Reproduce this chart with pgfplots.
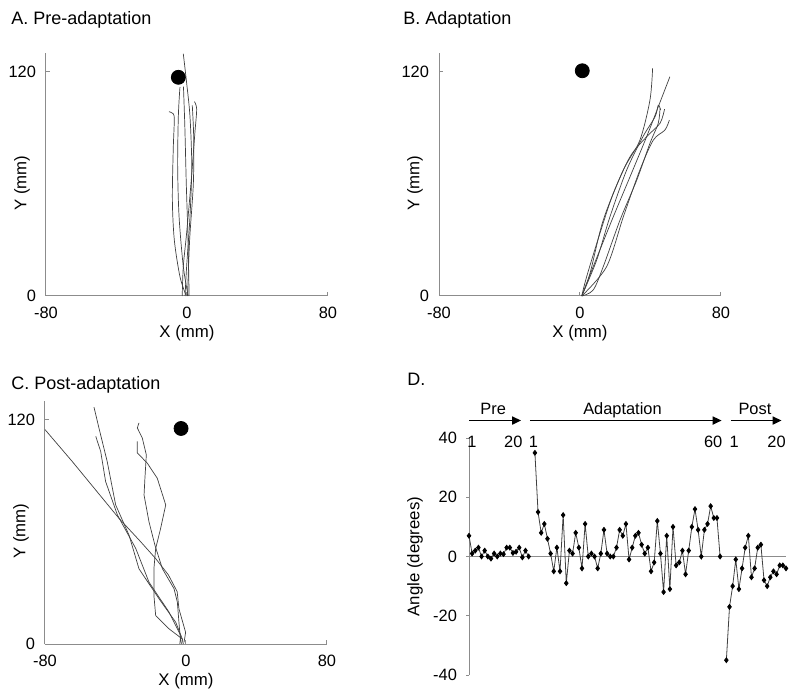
\documentclass[border=0pt]{standalone}
\usepackage{fontspec}
\setmainfont{Liberation Sans}
\usepackage{pgfplots}
\pgfplotsset{compat=1.18}
\usetikzlibrary{arrows.meta}

\definecolor{axgray}{HTML}{8C8C8C}
\definecolor{trace}{HTML}{404040}

\pgfplotsset{
  reach/.style={
    scale only axis, width=141pt, height=121.5pt,
    xmin=-80, xmax=80, ymin=0, ymax=130,
    axis lines=left, axis line style={axgray, line width=0.5pt, -},
    xtick={-80,0,80}, ytick={0,120},
    tick align=inside, major tick length=2pt,
    tick style={axgray, line width=0.5pt},
    tick label style={font=\fontsize{8.2}{10}\selectfont},
    xticklabel style={yshift=-2pt},
    yticklabel style={xshift=-1.5pt},
    /pgf/number format/assume math mode=true,
    xlabel={X (mm)}, ylabel={Y (mm)},
    label style={font=\fontsize{8.4}{10}\selectfont},
    xlabel style={at={(rel axis cs:0.5,0)}, anchor=center, yshift=-18.5pt},
    ylabel style={at={(rel axis cs:-0.085,0.465)}, anchor=center},
    clip=false,
  },
  tr/.style={trace, line width=0.35pt, no markers},
  target/.style={only marks, mark=*, mark size=3.5pt, black},
}

\begin{document}
\begin{tikzpicture}
\useasboundingbox (0,0) rectangle (400pt,349pt);

\node[anchor=base west, inner sep=0, font=\fontsize{9}{11}\selectfont] at (5.5pt,336.5pt) {A. Pre-adaptation};
\node[anchor=base west, inner sep=0, font=\fontsize{9}{11}\selectfont] at (201.5pt,336.5pt) {B. Adaptation};
\node[anchor=base west, inner sep=0, font=\fontsize{9}{11}\selectfont] at (5.5pt,154pt) {C. Post-adaptation};
\node[anchor=base west, inner sep=0, font=\fontsize{9}{11}\selectfont] at (203.5pt,156pt) {D.};

% A. Pre-adaptation
\begin{axis}[reach, at={(23pt,201pt)}, anchor=south west]
\addplot[tr, smooth] coordinates {(-2.1,129.6) (-0.2,114) (1.7,96) (2.7,69.5) (1.7,42.6) (-0.2,15.8) (-1.1,0)};
\addplot[tr, smooth] coordinates {(-4,111.7) (-4.9,96.4) (-5.3,69.5) (-4.5,42.6) (-2.1,15.8) (0.7,0)};
\addplot[tr, smooth] coordinates {(-10.2,98.6) (-7.8,97.5) (-7.2,94) (-7.8,78.5) (-8.3,51.6) (-7.2,30) (-4,10.4) (-0.4,0)};
\addplot[tr, smooth] coordinates {(4.2,104) (5.5,100) (4.5,87.5) (2.3,60.6) (-0.2,33.7) (-2.1,15.8) (-2.7,0)};
\addplot[tr, smooth] coordinates {(-2,112) (-1.2,90) (-0.4,60) (0.6,30) (1.2,0)};
\addplot[tr, smooth] coordinates {(3,102) (3.8,85) (3.6,60) (1.5,30) (0.3,0)};
\addplot[target] coordinates {(-4.9,117)};
\end{axis}

% B. Adaptation
\begin{axis}[reach, at={(219.5pt,201pt)}, anchor=south west]
\addplot[tr, smooth] coordinates {(1,0) (5.7,12.2) (13.2,40.6) (24.6,67.4) (34,83.4) (39.7,104.8) (41.2,121.8)};
\addplot[tr, smooth] coordinates {(1,0) (7.5,15.7) (18.9,42.4) (28.4,63.8) (37.8,85.2) (44.4,101.2) (51,117.3)};
\addplot[tr, smooth] coordinates {(1,0) (15.1,15.7) (24.6,42.4) (34,67.4) (41.6,83.4) (48.2,88.8) (50.7,94.1)};
\addplot[tr, smooth] coordinates {(1,0) (9.5,19.3) (17,42.4) (26.5,67.4) (35.7,85.2) (42.6,95.9) (44.4,102.1) (45.8,99.5)};
\addplot[tr, smooth] coordinates {(1,0) (3.8,10.4) (11.3,33.5) (18.9,54.9) (28.4,74.5) (37.8,85.2) (45.4,92.4) (48,100)};
\addplot[tr, smooth] coordinates {(1,0) (7.5,3.2) (13.2,15.7) (22.7,40.6) (32.2,62) (39.7,81.7) (44.4,92.4) (45.4,100.4)};
\addplot[target] coordinates {(1.3,120.5)};
\end{axis}

% C. Post-adaptation
\begin{axis}[reach, at={(22.5pt,27pt)}, anchor=south west]
\addplot[tr] coordinates {(-80,114.7) (-64.5,97.6) (-38,67.2) (-26,55) (-17.2,45.7) (-10,37) (-5,28) (-4,18.8) (-0.2,6.2) (-1.1,0.9)};
\addplot[tr] coordinates {(-52.2,126.7) (-49.4,115.6) (-44.7,97.6) (-39.9,74.4) (-32.3,58.2) (-26.7,40.3) (-15.3,24.2) (-5.8,11.6) (-2.1,2.7) (-2.5,0)};
\addplot[tr] coordinates {(-51.2,111.1) (-48.4,103) (-45.6,86.9) (-38.9,69) (-28.5,51.1) (-21,33.1) (-9.6,17) (-3,4.5) (-3.5,0)};
\addplot[tr] coordinates {(-26.7,118.3) (-27.6,115.6) (-24.8,110.2) (-22.5,101.2) (-23.3,88.7) (-23.8,79.7) (-21,65.4) (-17.6,52.8) (-13.4,40.3) (-6.8,29.6) (-4.9,22.4) (-4,11.6) (-3,0.9)};
\addplot[tr] coordinates {(-27.6,108.4) (-27.6,102.2) (-22,96.8) (-16.3,88.7) (-11.5,74.4) (-14.4,61.8) (-17.2,51.1) (-18.2,40.3) (-18.2,26) (-17.2,15.2) (-9.6,8.1) (-2.1,2.7) (-1.5,0)};
\addplot[target] coordinates {(-2.8,115.3)};
\end{axis}

% D. Angle per trial
\begin{axis}[
  at={(234.5pt,11.5pt)}, anchor=south west,
  scale only axis, width=158.5pt, height=118.5pt,
  xmin=1, xmax=102, ymin=-40, ymax=40,
  axis x line=none, axis y line=left,
  axis line style={axgray, line width=0.5pt, -},
  ytick={-40,-20,0,20,40},
  tick align=outside, major tick length=1.5pt,
  tick style={axgray, line width=0.5pt},
  tick label style={font=\fontsize{8.2}{10}\selectfont},
  yticklabel style={xshift=-1pt},
  /pgf/number format/assume math mode=true,
  ylabel={Angle (degrees)},
  label style={font=\fontsize{8.4}{10}\selectfont},
  ylabel style={at={(rel axis cs:-0.17,0.5)}, anchor=center},
  clip=false,
]
\addplot[axgray, line width=0.5pt] coordinates {(1,0) (102,0)};
\pgfplotsset{dstyle/.style={color=trace, line width=0.4pt, mark=diamond*, mark size=1.2pt, mark options={black}}}
\addplot[dstyle] coordinates {
 (1,7) (2,1) (3,2) (4,3) (5,0) (6,2) (7,0) (8,-0.7) (9,1) (10,0)
 (11,1) (12,0.8) (13,3) (14,3) (15,1.2) (16,1.6) (17,3) (18,-0.3) (19,2) (20,0)};
\addplot[dstyle] coordinates {
 (22,35) (23,15) (24,8) (25,11) (26,6) (27,1) (28,-5) (29,3) (30,-5) (31,14)
 (32,-9) (33,2) (34,1) (35,8) (36,3) (37,-4) (38,11) (39,0) (40,1) (41,0)
 (42,-4) (43,1) (44,9) (45,1) (46,0) (47,0) (48,3) (49,9) (50,7) (51,11)
 (52,-1) (53,3) (54,7) (55,8) (56,4) (57,1) (58,3) (59,-5) (60,-2) (61,12)
 (62,1) (63,-12) (64,7) (65,-11) (66,10) (67,-3) (68,-2) (69,2) (70,-6) (71,2)
 (72,10) (73,16) (74,9) (75,0) (76,9) (77,11) (78,17) (79,13) (80,13) (81,0)};
\addplot[dstyle] coordinates {
 (83,-35) (84,-17) (85,-10) (86,-1) (87,-11) (88,-4) (89,3) (90,7) (91,-7) (92,-4)
 (93,3) (94,4) (95,-8) (96,-10) (97,-7) (98,-5) (99,-6) (100,-3) (101,-3) (102,-4)};
% trial block arrows
\draw[-{Triangle[length=4.5pt,width=4pt]}, line width=0.9pt] (axis cs:1,45.9) -- (axis cs:17.6,45.9);
\draw[-{Triangle[length=4.5pt,width=4pt]}, line width=0.9pt] (axis cs:20.4,45.9) -- (axis cs:81.5,45.9);
\draw[-{Triangle[length=4.5pt,width=4pt]}, line width=0.9pt] (axis cs:84.4,45.9) -- (axis cs:100.6,45.9);
\begin{scope}[every node/.style={anchor=base, inner sep=0, font=\fontsize{8.2}{10}\selectfont}]
\node at (axis cs:8.7,47.8) {Pre};
\node at (axis cs:49.9,47.8) {Adaptation};
\node at (axis cs:92.1,47.8) {Post};
\node at (axis cs:1.9,36.7) {1};
\node at (axis cs:15.1,36.7) {20};
\node at (axis cs:21.5,36.7) {1};
\node at (axis cs:78.8,36.7) {60};
\node at (axis cs:85.5,36.7) {1};
\node at (axis cs:99,36.7) {20};
\end{scope}
\end{axis}
\end{tikzpicture}
\end{document}
